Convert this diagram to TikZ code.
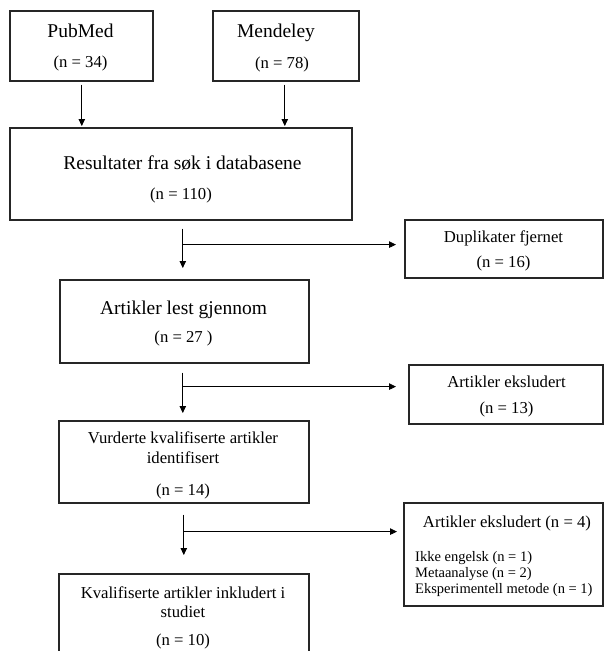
\documentclass[tikz,border=0pt]{standalone}
\usepackage{fontspec}
\setmainfont{Liberation Serif}
\usetikzlibrary{arrows.meta,calc}
\tikzset{
  box/.style={draw=black!85, line width=1.6pt, inner sep=0pt, anchor=north west},
  ttl/.style={inner sep=0pt, anchor=base, font=\fontsize{19.5}{23}\selectfont},
  txt/.style={inner sep=0pt, anchor=base, font=\fontsize{16.7}{20}\selectfont},
  sml/.style={inner sep=0pt, anchor=base west, font=\fontsize{14.5}{17}\selectfont},
  arr/.style={draw=black, line width=0.8pt, -{Triangle[length=7pt,width=6.5pt]}},
}
\begin{document}
\begin{tikzpicture}[x=1pt,y=-1pt]
\clip (0,0) rectangle (604,651);
\fill[white] (0,0) rectangle (604,651);
% boxes
\node[box, minimum width=143pt, minimum height=70pt] (pub) at (9,10) {};
\node[box, minimum width=146pt, minimum height=70pt] (men) at (212,10) {};
\node[box, minimum width=342pt, minimum height=92pt] (res) at (9,127) {};
\node[box, minimum width=198pt, minimum height=58pt] (dup) at (404,219) {};
\node[box, minimum width=194pt, minimum height=59pt] (exa) at (408,364) {};
\node[box, minimum width=249pt, minimum height=83pt] (lest) at (59,279) {};
\node[box, minimum width=250pt, minimum height=82pt] (vur) at (58,420) {};
\node[box, minimum width=199pt, minimum height=103pt] (exb) at (403,502) {};
\node[box, minimum width=250pt, minimum height=90pt] (kval) at (58,573) {};
% texts
\node[ttl] (tpub) at (80.5,37.4) {PubMed};
\node[txt] (npub) at (80.5,67.5) {(n = 34)};
\node[ttl] (tmen) at (276,37.4) {Mendeley};
\node[txt] (nmen) at (282,68.5) {(n = 78)};
\node[ttl] (tres) at (182.5,169.4) {Resultater fra søk i databasene};
\node[txt] (nres) at (181,199.5) {(n = 110)};
\node[txt] (tdup) at (503.5,242.5) {Duplikater fjernet};
\node[txt] (ndup) at (503.5,267.5) {(n = 16)};
\node[ttl] (tlest) at (183.5,314.4) {Artikler lest gjennom};
\node[txt] (nlest) at (183.5,342.5) {(n = 27 )};
\node[txt] (texa) at (506.5,387.5) {Artikler eksludert};
\node[txt] (nexa) at (506.5,413.5) {(n = 13)};
\node[txt] (tvur) at (183,443.5) {Vurderte kvalifiserte artikler};
\node[txt] (tvur2) at (183,463.5) {identifisert};
\node[txt] (nvur) at (183,495.5) {(n = 14)};
\node[txt] (texb) at (507,527.5) {Artikler eksludert (n = 4)};
\node[sml] (l1) at (415,561.8) {Ikke engelsk (n = 1)};
\node[sml] (l2) at (415,577.3) {Metaanalyse (n = 2)};
\node[sml] (l3) at (415,593.8) {Eksperimentell metode (n = 1)};
\node[txt] (tkval) at (183,598.5) {Kvalifiserte artikler inkludert i};
\node[txt] (tkval2) at (183,617.5) {studiet};
\node[txt] (nkval) at (183,645.5) {(n = 10)};
% connectors
\draw[arr] ($(pub.south)+(0.5,3)$) -- ($(pub.south |- res.north)+(0.5,-1)$);
\draw[arr] ($(men.south)+(-1,3)$) -- ($(men.south |- res.north)+(-1,-1)$);
\coordinate (b1) at ($(res.south -| lest.north)+(-1.5,24)$);
\draw[arr] ($(res.south -| lest.north)+(-1.5,8)$) -- ($(lest.north)+(-1.5,-11)$);
\draw[arr] (b1) -- ($(b1 -| dup.west)+(-8,0)$);
\coordinate (b2) at ($(lest.south)+(-1.5,23)$);
\draw[arr] ($(lest.south)+(-1.5,9)$) -- ($(vur.north -| b2)+(0,-7)$);
\draw[arr] (b2) -- ($(b2 -| exa.west)+(-12,0)$);
\coordinate (b3) at ($(vur.south)+(0,28)$);
\draw[arr] ($(vur.south)+(0,11)$) -- ($(kval.north)+(0,-18)$);
\draw[arr] (b3) -- ($(b3 -| exb.west)+(-6,0)$);
\end{tikzpicture}
\end{document}
